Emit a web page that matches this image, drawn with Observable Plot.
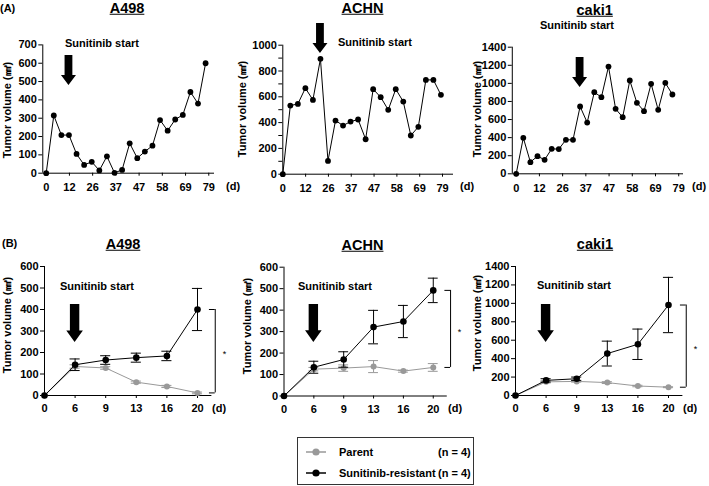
<!DOCTYPE html>
<html>
<head>
<meta charset="utf-8">
<script src="https://cdn.jsdelivr.net/npm/d3@7"></script>
<script src="https://cdn.jsdelivr.net/npm/@observablehq/plot@0.6"></script>
<style>
  html, body { margin: 0; padding: 0; background: #fff; }
  #root { position: relative; width: 709px; height: 486px; overflow: hidden;
          font-family: "Liberation Sans", Arial, sans-serif; font-weight: bold; color: #000; }
  .t { position: absolute; white-space: nowrap; line-height: 1; }
  #root svg { position: absolute; overflow: visible; }
  .legend { position: absolute; border: 1px solid #333; background: #fff; }
</style>
</head>
<body>
<div id="root"></div>
<script>
// ---------------- DATA ----------------
const cellLines = ["A498", "ACHN", "caki1"];
const yTitle = "Tumor volume (㎣)";
const arrowText = "Sunitinib start";

// (A) single-tumour time courses: one value per measurement, in order
const tickLabelsA = [0, 12, 26, 37, 47, 58, 69, 79];
const a498A  = [0, 315, 208, 208, 105, 45, 62, 15, 92, 2, 18, 163, 82, 118, 150, 290, 232, 293, 318, 443, 380, 600];
const achnA  = [0, 532, 545, 667, 576, 894, 103, 416, 377, 408, 424, 271, 659, 597, 499, 659, 563, 300, 367, 731, 731, 615];
const caki1A = [0, 398, 129, 195, 155, 276, 273, 376, 376, 744, 567, 903, 847, 1186, 718, 626, 1032, 785, 693, 995, 707, 1006, 877];
// arrow annotation: measurement index it points to, and value at its tip
const arrowIdxA = [3, 5, 9];
const arrowTipA = [478, 936, 954];

// (B) parent vs sunitinib-resistant, mean ± error
const tickLabelsB = [0, 6, 9, 13, 16, 20];
const a498Res  = [0, 143, 165, 176, 184, 400];
const a498ResErr = [0, 27, 20, 21, 22, 98];
const a498Par  = [0, 135, 128, 62, 42, 12];
const a498ParErr = [0, 8, 6, 5, 5, 4];
const achnRes  = [0, 134, 170, 321, 347, 492];
const achnResErr = [0, 28, 36, 78, 75, 57];
const achnPar  = [0, 125, 130, 137, 116, 133];
const achnParErr = [0, 8, 15, 28, 5, 18];
const caki1Res = [0, 164, 182, 455, 556, 982];
const caki1ResErr = [0, 18, 18, 135, 165, 300];
const caki1Par = [0, 148, 153, 140, 103, 90];
const caki1ParErr = [0, 12, 8, 10, 8, 5];
const arrowTipB = [246, 249, 575];
const seriesNames = ["Parent", "Sunitinib-resistant"];
const nLabels = ["(n = 4)", "(n = 4)"];

// ---------------- LAYOUT (pixels) ----------------
const FONT = '"Liberation Sans", Arial, sans-serif';
const BLACK = "#000", GRAY = "#999";
const root = document.getElementById("root");

function addText(txt, x, y, o = {}) {
  const d = document.createElement("div");
  d.className = "t";
  d.textContent = txt;
  d.style.fontSize = (o.size || 11) + "px";
  d.style.left = x + "px";
  d.style.top = y + "px";
  if (o.underline) d.style.textDecoration = "underline";
  const tx = o.anchor === "start" ? "0" : o.anchor === "end" ? "-100%" : "-50%";
  d.style.transform = `translate(${tx},-50%)` + (o.rotate ? " rotate(-90deg)" : "");
  root.appendChild(d);
  return d;
}

function arrowMark(xv, tipV, len, sw, hw, hh) {
  return (index, scales) => {
    const cx = scales.x(xv), b = scales.y(tipV), t = b - len;
    const p = document.createElementNS("http://www.w3.org/2000/svg", "path");
    p.setAttribute("d", `M${cx - sw},${t}H${cx + sw}V${b - hh}H${cx + hw}L${cx},${b}L${cx - hw},${b - hh}H${cx - sw}Z`);
    p.setAttribute("fill", BLACK);
    return p;
  };
}

const STYLE = { fontFamily: FONT, fontWeight: "bold", fontSize: "11px", color: BLACK, background: "transparent", overflow: "visible" };

// ---- (A) row ----
const valuesA = [a498A, achnA, caki1A];
const layoutA = [
  { left: 0,   W: 235, x0: 45.7,  ppi: 7.59, xMinIdx: -0.45, xEnd: 214, perTick: 3.06, yMax: 700,  yTopPx: 44.4, y0Px: 172.7, step: 100, minor: 100 },
  { left: 235, W: 235, x0: 282.3, ppi: 7.53, xMinIdx: 0,     xEnd: 453, perTick: 3.03, yMax: 1000, yTopPx: 44.7, y0Px: 173.7, step: 200, minor: 100 },
  { left: 470, W: 239, x0: 515.7, ppi: 7.1,  xMinIdx: -0.55, xEnd: 683, perTick: 3.27, yMax: 1400, yTopPx: 46.7, y0Px: 173.3, step: 200, minor: 200 }
];
const topA = 0, HA = 200;

layoutA.forEach((L, k) => {
  const data = valuesA[k].map((v, i) => ({ i, v }));
  const xMin = L.xMinIdx, xMax = (L.xEnd - L.x0) / L.ppi;
  const tickPos = tickLabelsA.map((d, j) => j * L.perTick);
  const labelOf = new Map(tickPos.map((p, j) => [p, String(tickLabelsA[j])]));
  const yt = d3.range(0, L.yMax + 1, L.minor);
  const svg = Plot.plot({
    width: L.W, height: HA,
    marginLeft: L.x0 + xMin * L.ppi - L.left,
    marginRight: L.left + L.W - L.xEnd,
    marginTop: L.yTopPx - topA,
    marginBottom: topA + HA - L.y0Px,
    x: { domain: [xMin, xMax], axis: null },
    y: { domain: [0, L.yMax], axis: null },
    style: STYLE,
    marks: [
      Plot.ruleX([xMin], { stroke: BLACK, strokeWidth: 1 }),
      Plot.ruleY([0], { stroke: BLACK, strokeWidth: 1 }),
      Plot.axisY({ ticks: yt, label: null, tickSize: 4, tickPadding: 2, tickFormat: d => d % L.step === 0 ? String(d) : "", fontWeight: "bold", fontSize: 11 }),
      Plot.axisX({ ticks: tickPos, label: null, tickSize: 3, tickPadding: 7, tickFormat: d => labelOf.get(d), fontWeight: "bold", fontSize: 11 }),
      Plot.line(data, { x: "i", y: "v", stroke: BLACK, strokeWidth: 1 }),
      Plot.dot(data, { x: "i", y: "v", r: 2.9, fill: BLACK, stroke: null }),
      arrowMark(arrowIdxA[k], arrowTipA[k], 30, 3.9, 7.5, 10)
    ]
  });
  svg.style.left = L.left + "px";
  svg.style.top = topA + "px";
  root.appendChild(svg);
});

// ---- (B) row ----
const resB = [a498Res, achnRes, caki1Res], resErrB = [a498ResErr, achnResErr, caki1ResErr];
const parB = [a498Par, achnPar, caki1Par], parErrB = [a498ParErr, achnParErr, caki1ParErr];
const layoutB = [
  { left: 0,   W: 235, x0: 44,    ppi: 30.6,  yMax: 600,  step: 100, yTopPx: 266,   y0Px: 395 },
  { left: 235, W: 235, x0: 283.5, ppi: 29.85, yMax: 600,  step: 100, yTopPx: 266.7, y0Px: 395.5 },
  { left: 470, W: 239, x0: 515,   ppi: 30.6,  yMax: 1400, step: 200, yTopPx: 266,   y0Px: 395 }
];
const topB = 220, HB = 200, xMaxB = 6.2, axisEndB = 5.47;

layoutB.forEach((L, k) => {
  const mk = (vals, errs) => vals.map((v, i) => ({ i, v, lo: v - errs[i], hi: v + errs[i] }));
  const res = mk(resB[k], resErrB[k]);
  const par = mk(parB[k], parErrB[k]);
  const lastRes = resB[k][resB[k].length - 1], lastPar = parB[k][parB[k].length - 1];
  const labelOf = new Map(tickLabelsB.map((d, j) => [j, String(d)]));
  const cap = 0.165;
  const series = (data, color, r) => [
    Plot.ruleX(data.filter(d => d.hi > d.lo), { x: "i", y1: "lo", y2: "hi", stroke: color, strokeWidth: 1 }),
    Plot.ruleY(data.filter(d => d.hi > d.lo), { y: "hi", x1: d => d.i - cap, x2: d => d.i + cap, stroke: color, strokeWidth: 1 }),
    Plot.ruleY(data.filter(d => d.hi > d.lo), { y: "lo", x1: d => d.i - cap, x2: d => d.i + cap, stroke: color, strokeWidth: 1 }),
    Plot.line(data, { x: "i", y: "v", stroke: color, strokeWidth: 1 }),
    Plot.dot(data, { x: "i", y: "v", r, fill: color, stroke: null })
  ];
  const bx = 5.58, bt = 0.19;
  const svg = Plot.plot({
    width: L.W, height: HB,
    marginLeft: L.x0 - L.left,
    marginRight: L.left + L.W - (L.x0 + xMaxB * L.ppi),
    marginTop: L.yTopPx - topB,
    marginBottom: topB + HB - L.y0Px,
    x: { domain: [0, xMaxB], axis: null },
    y: { domain: [0, L.yMax], axis: null },
    style: STYLE,
    marks: [
      Plot.ruleX([0], { stroke: BLACK, strokeWidth: 1 }),
      Plot.ruleY([0], { x1: 0, x2: axisEndB, stroke: BLACK, strokeWidth: 1 }),
      Plot.axisY({ ticks: d3.range(0, L.yMax + 1, L.step), label: null, tickSize: 4, tickPadding: 2, tickFormat: d => String(d), fontWeight: "bold", fontSize: 11 }),
      Plot.axisX({ ticks: d3.range(tickLabelsB.length), label: null, tickSize: 3, tickPadding: 6, tickFormat: d => labelOf.get(d), fontWeight: "bold", fontSize: 11 }),
      ...series(par, GRAY, 3),
      ...series(res, BLACK, 3.3),
      // significance bracket between final means
      Plot.ruleX([bx], { y1: lastPar, y2: lastRes, stroke: BLACK, strokeWidth: 1 }),
      Plot.ruleY([lastRes, lastPar], { x1: bx - bt, x2: bx, stroke: BLACK, strokeWidth: 1 }),
      Plot.text(["*"], { x: 5.88, y: (lastRes + lastPar) / 2, dy: 3, fontSize: 9, fontWeight: "normal" }),
      arrowMark(1, arrowTipB[k], 38, 4.7, 8.3, 11.7)
    ]
  });
  svg.style.left = L.left + "px";
  svg.style.top = topB + "px";
  root.appendChild(svg);
});

// ---- texts ----
addText("(A)", 0, 8, { anchor: "start", size: 11 });
addText("(B)", 2, 243, { anchor: "start", size: 11 });
const titleXA = [127, 362.5, 594.7], titleYA = [8, 8, 10];
const titleXB = [123, 362.5, 595], titleYB = [244, 245, 244];
cellLines.forEach((c, k) => {
  addText(c, titleXA[k], titleYA[k], { size: 14.5, underline: true });
  addText(c, titleXB[k], titleYB[k], { size: 14.5, underline: true });
});
const startA = [[65, 43], [338, 42], [540, 25]];
const startB = [[60, 286], [298, 286], [537, 285]];
startA.concat(startB).forEach(([x, y]) => addText(arrowText, x, y, { anchor: "start", size: 11 }));
const yLabA = [[7.3, 110], [242, 109], [476.7, 109]];
const yLabB = [[7.3, 325], [247, 326], [477, 323]];
yLabA.concat(yLabB).forEach(([x, y]) => addText(yTitle, x, y, { size: 11, rotate: true }));
const dA = [[226, 186], [460, 186], [692, 186]];
const dB = [[212, 408], [448, 408], [683, 408]];
dA.concat(dB).forEach(([x, y]) => addText("(d)", x, y, { anchor: "start", size: 11 }));

// ---- legend ----
const lg = document.createElement("div");
lg.className = "legend";
Object.assign(lg.style, { left: "297px", top: "437px", width: "175px", height: "46px" });
root.appendChild(lg);
const colors = [GRAY, BLACK];
seriesNames.forEach((name, j) => {
  const y = 452 + j * 21;
  const s = document.createElementNS("http://www.w3.org/2000/svg", "svg");
  s.setAttribute("width", 20); s.setAttribute("height", 10);
  s.style.left = "306px"; s.style.top = (y - 5) + "px";
  s.innerHTML = `<line x1="0" x2="20" y1="5" y2="5" stroke="${colors[j]}" stroke-width="1.5"/><circle cx="10" cy="5" r="3.6" fill="${colors[j]}"/>`;
  root.appendChild(s);
  addText(name, 339, y, { anchor: "start", size: 11 });
  addText(nLabels[j], 438, y, { anchor: "start", size: 11 });
});
</script>
</body>
</html>
